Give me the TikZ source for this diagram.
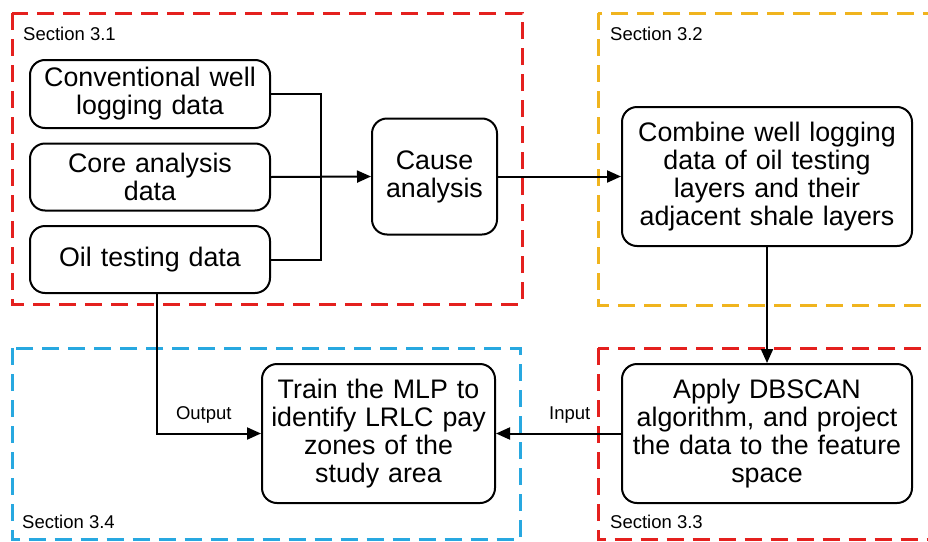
\documentclass[tikz,border=0pt]{standalone}
\usepackage{fontspec}
\setmainfont{Liberation Sans}
\usetikzlibrary{arrows.meta}
\definecolor{secred}{RGB}{228,32,30}
\definecolor{secyellow}{RGB}{240,180,30}
\definecolor{secblue}{RGB}{40,168,224}
\tikzset{
  secbox/.style={line width=3pt, dash pattern=on 17pt off 9pt},
  procbox/.style={draw, line width=2pt, rounded corners=15pt, align=center,
    inner sep=2pt, font=\fontsize{26.8}{28}\selectfont},
  seclabel/.style={font=\fontsize{18.5}{20}\selectfont, anchor=west, inner sep=0pt},
  edgelabel/.style={font=\fontsize{18.5}{20}\selectfont, inner sep=0pt},
  conn/.style={line width=2pt},
  arr/.style={conn, -{Triangle[length=14pt,width=12pt]}}
}
\begin{document}
\begin{tikzpicture}[x=1pt,y=-1pt]
\useasboundingbox (0,0) rectangle (928,541);
\clip (0,0) rectangle (928,541);
\fill[white] (0,0) rectangle (928,541);
% section frames
\draw[secbox, secred] (12,13) rectangle (522,304);
\draw[secbox, secyellow] (598,13) rectangle (945,305);
\draw[secbox, secblue] (12,348) rectangle (520,539.5);
\draw[secbox, secred] (598,348) rectangle (945,539.5);
\node[seclabel] (s31) at (23,34) {Section 3.1};
\node[seclabel] (s32) at (610,34) {Section 3.2};
\node[seclabel] (s34) at (22,522) {Section 3.4};
\node[seclabel] (s33) at (610,522) {Section 3.3};
% nodes
\node[procbox, minimum width=240pt, minimum height=68pt, text width=232pt] (conv) at (150,94) {Conventional well\\logging data};
\node[procbox, minimum width=240pt, minimum height=67pt, text width=232pt] (core) at (150,177) {Core analysis\\data};
\node[procbox, minimum width=240pt, minimum height=67pt, text width=232pt] (oil) at (150,259.5) {Oil testing data};
\node[procbox, minimum width=125pt, minimum height=116pt, text width=117pt] (cause) at (434.5,176.5) {Cause\\analysis};
\node[procbox, minimum width=290pt, minimum height=139pt, text width=282pt] (comb) at (767,176.5) {Combine well logging\\data of oil testing\\layers and their\\adjacent shale layers};
\node[procbox, minimum width=290pt, minimum height=139pt, text width=282pt] (apply) at (767,433.5) {Apply DBSCAN\\algorithm, and project\\the data to the feature\\space};
\node[procbox, minimum width=233pt, minimum height=139pt, text width=225pt] (train) at (378.5,433.5) {Train the MLP to\\identify LRLC pay\\zones of the\\study area};
% connectors
\coordinate (j1) at (321,94);
\coordinate (j2) at (321,259.5);
\draw[conn] (conv.east) -- (j1) -- (j2) -- (oil.east);
\draw[arr] (core.east) -- (cause.west);
\draw[arr] (cause.east) -- (comb.west);
\draw[arr] (comb.south) -- (apply.north);
\draw[arr] (apply.west) -- node[edgelabel, above=9pt, pos=0.41] (inlab) {Input} (train.east);
\coordinate (j3) at (157,433.5);
\draw[arr] (oil.south -| j3) -- (j3) -- node[edgelabel, above=9pt, pos=0.45] (outlab) {Output} (train.west);
\end{tikzpicture}
\end{document}
